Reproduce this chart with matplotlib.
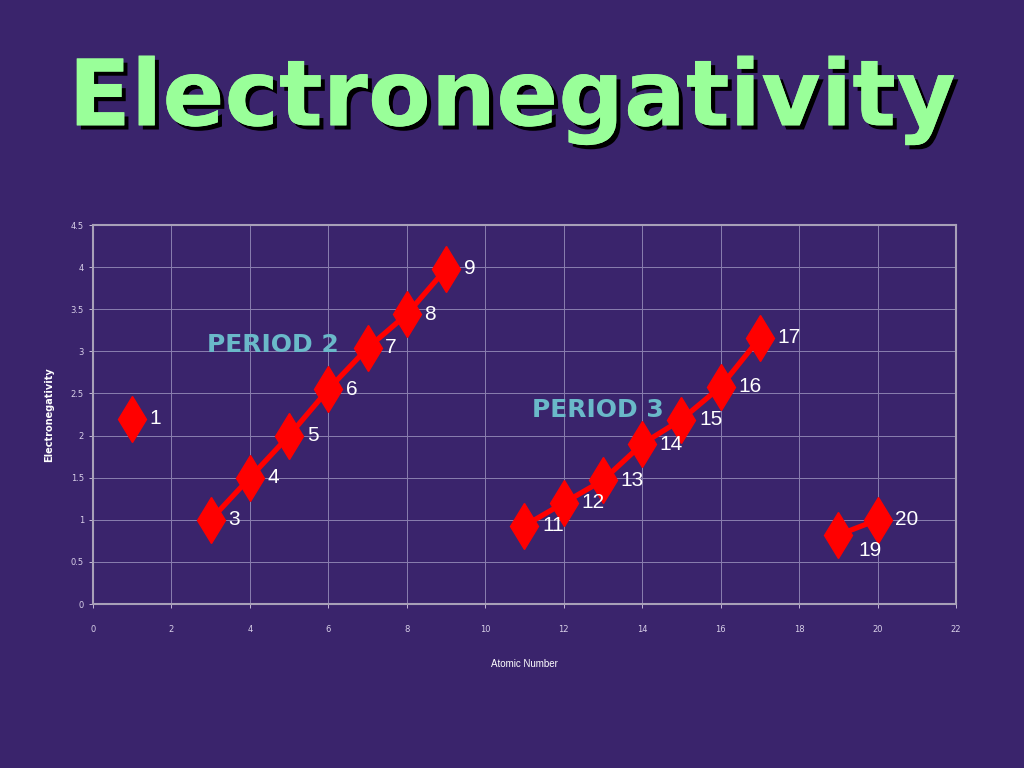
import matplotlib
matplotlib.use("Agg")
import matplotlib.pyplot as plt
import matplotlib.patheffects as pe

# Atomic numbers and electronegativity values, grouped by connected segments
groups = [
    ([1], [2.2]),
    ([3, 4, 5, 6, 7, 8, 9], [1.0, 1.5, 2.0, 2.55, 3.04, 3.44, 3.98]),
    ([11, 12, 13, 14, 15, 16, 17], [0.93, 1.2, 1.47, 1.9, 2.19, 2.58, 3.16]),
    ([19, 20], [0.82, 1.0]),
]
label_offsets = {19: (0.5, -0.18)}

bg = "#3a246c"
narrow = ["Liberation Sans", "DejaVu Sans"]

fig = plt.figure(figsize=(10.24, 7.68), dpi=100, facecolor=bg)
ax = fig.add_axes([0.0908, 0.2135, 0.8428, 0.4935])
ax.set_facecolor(bg)

for xs, ys in groups:
    ax.plot(xs, ys, color="red", lw=3.8, marker="d", ms=23, zorder=3,
            markeredgecolor="red", solid_capstyle="butt")
    for x, y in zip(xs, ys):
        dx, dy = label_offsets.get(x, (0.45, 0.0))
        ax.text(x + dx, y + dy, str(x), color="white", fontsize=15,
                family=narrow, va="center", ha="left", zorder=4)

ax.text(2.9, 3.07, "PERIOD 2", color="#6ab9c9", fontsize=18, weight="bold",
        ha="left", va="center")
ax.text(11.2, 2.3, "PERIOD 3", color="#6ab9c9", fontsize=18, weight="bold",
        ha="left", va="center")

ax.set_xlim(0, 22)
ax.set_ylim(0, 4.5)
ax.set_xticks(range(0, 23, 2))
ax.set_yticks([0, 0.5, 1, 1.5, 2, 2.5, 3, 3.5, 4, 4.5])
ax.set_yticklabels(["0", "0.5", "1", "1.5", "2", "2.5", "3", "3.5", "4", "4.5"])
ax.tick_params(colors="#d8d0e8", labelsize=6, length=3, width=0.6)
ax.tick_params(axis="x", pad=12)
ax.grid(True, color="#8a7fb0", lw=0.7)
for s in ax.spines.values():
    s.set_color("#a8a0b8")
    s.set_linewidth(1.5)

ax.set_xlabel("Atomic Number", color="white", fontsize=7, family=narrow, labelpad=18)
ax.set_ylabel("Electronegativity", color="white", fontsize=7, weight="bold", labelpad=12)

fig.text(0.5, 0.87, "Electronegativity", color="#99ff99", fontsize=66,
         weight="bold", ha="center", va="center",
         path_effects=[pe.withSimplePatchShadow(offset=(3, -3), shadow_rgbFace="black", alpha=1),
                       pe.Normal()])

fig.savefig("out.png", dpi=100, facecolor=bg)
